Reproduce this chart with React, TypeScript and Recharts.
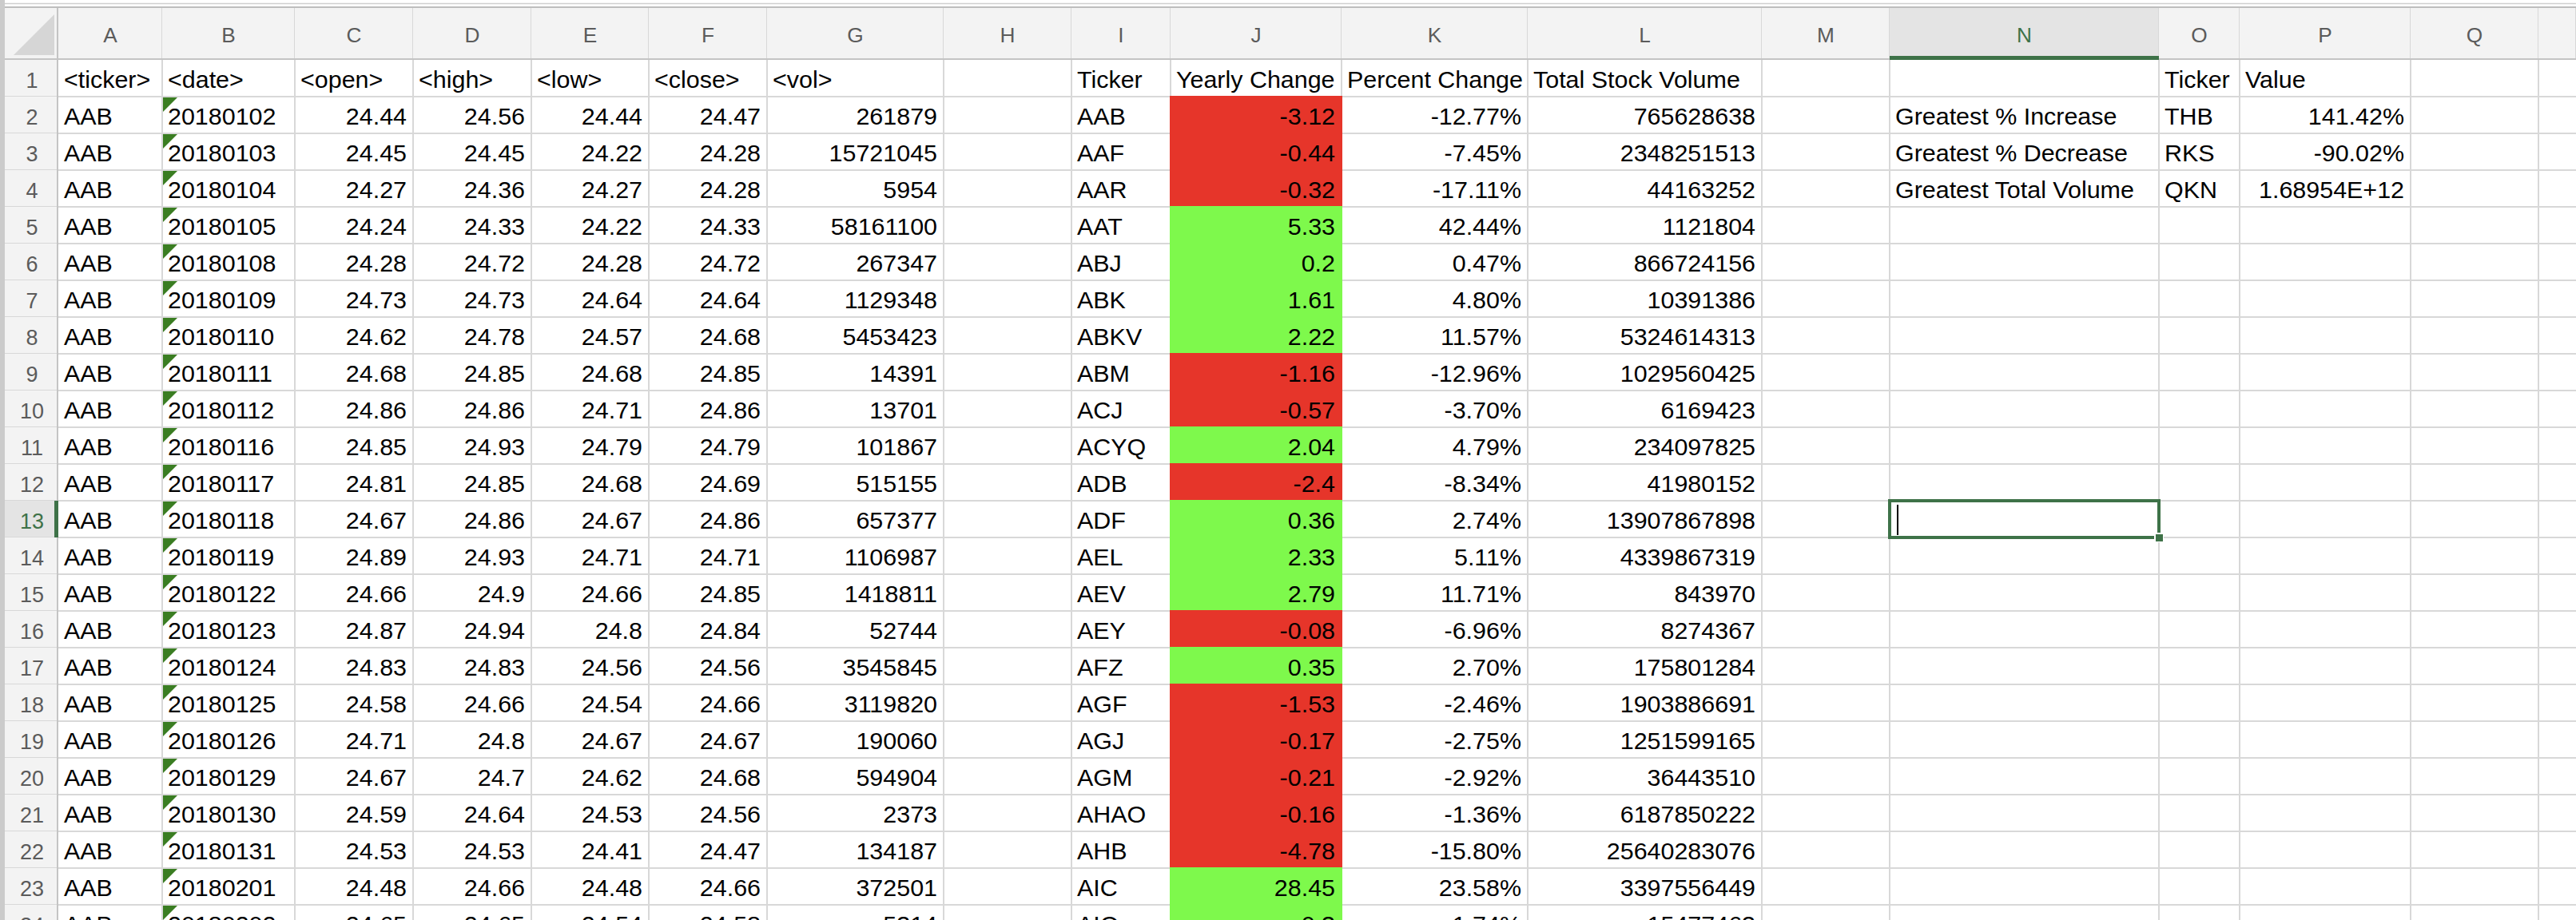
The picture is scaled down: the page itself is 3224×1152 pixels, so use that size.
import React from 'react';
import { ScatterChart, Scatter, XAxis, YAxis, CartesianGrid, ReferenceArea } from 'recharts';

// column letters shown in the header band (the last, partly visible column has no letter)
const COLUMN_LETTERS = ['A', 'B', 'C', 'D', 'E', 'F', 'G', 'H', 'I', 'J', 'K', 'L', 'M', 'N', 'O', 'P', 'Q', ''];
const ROW_NUMBERS = [1, 2, 3, 4, 5, 6, 7, 8, 9, 10, 11, 12, 13, 14, 15, 16, 17, 18, 19, 20, 21, 22, 23, 24];

// raw price table (columns A-G)
const RAW_HEADERS = ['<ticker>', '<date>', '<open>', '<high>', '<low>', '<close>', '<vol>'];
const TICKERS = ['AAB', 'AAB', 'AAB', 'AAB', 'AAB', 'AAB', 'AAB', 'AAB', 'AAB', 'AAB', 'AAB', 'AAB', 'AAB', 'AAB', 'AAB', 'AAB', 'AAB', 'AAB', 'AAB', 'AAB', 'AAB', 'AAB', 'AAB'];
const DATES = ['20180102', '20180103', '20180104', '20180105', '20180108', '20180109', '20180110', '20180111', '20180112', '20180116', '20180117', '20180118', '20180119', '20180122', '20180123', '20180124', '20180125', '20180126', '20180129', '20180130', '20180131', '20180201', '20180202'];
const OPEN = [24.44, 24.45, 24.27, 24.24, 24.28, 24.73, 24.62, 24.68, 24.86, 24.85, 24.81, 24.67, 24.89, 24.66, 24.87, 24.83, 24.58, 24.71, 24.67, 24.59, 24.53, 24.48, 24.65];
const HIGH = [24.56, 24.45, 24.36, 24.33, 24.72, 24.73, 24.78, 24.85, 24.86, 24.93, 24.85, 24.86, 24.93, 24.9, 24.94, 24.83, 24.66, 24.8, 24.7, 24.64, 24.53, 24.66, 24.65];
const LOW = [24.44, 24.22, 24.27, 24.22, 24.28, 24.64, 24.57, 24.68, 24.71, 24.79, 24.68, 24.67, 24.71, 24.66, 24.8, 24.56, 24.54, 24.67, 24.62, 24.53, 24.41, 24.48, 24.54];
const CLOSE = [24.47, 24.28, 24.28, 24.33, 24.72, 24.64, 24.68, 24.85, 24.86, 24.79, 24.69, 24.86, 24.71, 24.85, 24.84, 24.56, 24.66, 24.67, 24.68, 24.56, 24.47, 24.66, 24.58];
const VOL = [261879, 15721045, 5954, 58161100, 267347, 1129348, 5453423, 14391, 13701, 101867, 515155, 657377, 1106987, 1418811, 52744, 3545845, 3119820, 190060, 594904, 2373, 134187, 372501, 5314];

// yearly summary (columns I-L)
const SUMMARY_HEADERS = ['Ticker', 'Yearly Change', 'Percent Change', 'Total Stock Volume'];
const SUMMARY_TICKERS = ['AAB', 'AAF', 'AAR', 'AAT', 'ABJ', 'ABK', 'ABKV', 'ABM', 'ACJ', 'ACYQ', 'ADB', 'ADF', 'AEL', 'AEV', 'AEY', 'AFZ', 'AGF', 'AGJ', 'AGM', 'AHAO', 'AHB', 'AIC', 'AIQ'];
const YEARLY_CHANGE = [-3.12, -0.44, -0.32, 5.33, 0.2, 1.61, 2.22, -1.16, -0.57, 2.04, -2.4, 0.36, 2.33, 2.79, -0.08, 0.35, -1.53, -0.17, -0.21, -0.16, -4.78, 28.45, 0.3];
const PERCENT_CHANGE = [-12.77, -7.45, -17.11, 42.44, 0.47, 4.8, 11.57, -12.96, -3.7, 4.79, -8.34, 2.74, 5.11, 11.71, -6.96, 2.7, -2.46, -2.75, -2.92, -1.36, -15.8, 23.58, 1.74];
const TOTAL_VOLUME = [765628638, 2348251513, 44163252, 1121804, 866724156, 10391386, 5324614313, 1029560425, 6169423, 234097825, 41980152, 13907867898, 4339867319, 843970, 8274367, 175801284, 1903886691, 1251599165, 36443510, 6187850222, 25640283076, 3397556449, 15477463];

// greatest block (columns N-P)
const GREATEST_HEADERS = ['Ticker', 'Value'];
const GREATEST_LABELS = ['Greatest % Increase', 'Greatest % Decrease', 'Greatest Total Volume'];
const GREATEST_TICKERS = ['THB', 'RKS', 'QKN'];
const GREATEST_PERCENTS = [141.42, -90.02];
const GREATEST_VOLUME = 1.68954e12;

const ACTIVE_COLUMN = 'N';
const ACTIVE_ROW = 13;

// layout of the sheet (pixels)
const W = 3224;
const H = 1152;
const CHART_H = 1200;
const FRAME_LEFT = 6;
const HEADER_TOP = 10;
const HEADER_H = 65;
const PLOT_TOP = HEADER_TOP + HEADER_H;
const PLOT_LEFT = 73;
const ROW_H = 46;
const COL_EDGES = [73, 203, 369, 517, 665, 812, 960, 1181, 1341, 1465, 1679, 1912, 2205, 2365, 2702, 2803, 3017, 3177, 3224];
const COL_CENTERS = COL_EDGES.slice(0, -1).map((e, i) => (e + COL_EDGES[i + 1]) / 2);
const Y_MAX = 0.5 + (CHART_H - PLOT_TOP) / ROW_H;

const FONT = '"Liberation Sans", Arial, sans-serif';
const SX = 1.05;
const RED = '#e6352a';
const LIME = '#7ef94c';
const ACCENT = '#3e7248';
const GRID = '#d8d8d8';
const HEAD_BG = '#f3f3f3';

type Cell = { x: number; y: number; col: number; text: string; align: 'left' | 'right'; fill?: string; flag?: boolean };

const cells: Cell[] = [];
const put = (col: number, row: number, text: string, align: 'left' | 'right', extra: Partial<Cell> = {}) =>
    cells.push({ x: COL_CENTERS[col], y: row, col, text, align, ...extra });

const pct = (v: number) => `${v.toFixed(2)}%`;

RAW_HEADERS.forEach((h, i) => put(i, 1, h, 'left'));
DATES.forEach((d, i) => {
    const row = i + 2;
    put(0, row, TICKERS[i], 'left');
    put(1, row, d, 'left', { flag: true });
    put(2, row, String(OPEN[i]), 'right');
    put(3, row, String(HIGH[i]), 'right');
    put(4, row, String(LOW[i]), 'right');
    put(5, row, String(CLOSE[i]), 'right');
    put(6, row, String(VOL[i]), 'right');
});
SUMMARY_HEADERS.forEach((h, i) => put(8 + i, 1, h, 'left'));
SUMMARY_TICKERS.forEach((t, i) => {
    const row = i + 2;
    put(8, row, t, 'left');
    put(9, row, String(YEARLY_CHANGE[i]), 'right', { fill: YEARLY_CHANGE[i] < 0 ? RED : LIME });
    put(10, row, pct(PERCENT_CHANGE[i]), 'right');
    put(11, row, String(TOTAL_VOLUME[i]), 'right');
});
GREATEST_HEADERS.forEach((h, i) => put(14 + i, 1, h, 'left'));
GREATEST_LABELS.forEach((l, i) => {
    put(13, i + 2, l, 'left');
    put(14, i + 2, GREATEST_TICKERS[i], 'left');
});
GREATEST_PERCENTS.forEach((v, i) => put(15, i + 2, pct(v), 'right'));
put(15, 4, GREATEST_VOLUME.toExponential(5).toUpperCase(), 'right');

// one spreadsheet cell, placed by the scatter point
const CellShape = (props: any) => {
    const { cx, cy, payload } = props;
    const half = (COL_EDGES[payload.col + 1] - COL_EDGES[payload.col]) / 2;
    const left = cx - half;
    const right = cx + half;
    const top = cy - ROW_H / 2;
    const tx = payload.align === 'left' ? left + 7 : right - 8;
    return (
        <g>
            {payload.fill && <rect x={left - 1} y={top - 1} width={half * 2 + 2} height={ROW_H + 2} fill={payload.fill} />}
            {payload.flag && <path d={`M${left + 1},${top + 1} L${left + 19},${top + 1} L${left + 1},${top + 19} Z`} fill="#3a7d22" />}
            <text
                transform={`translate(${tx},${cy + 12}) scale(${SX},1)`}
                textAnchor={payload.align === 'left' ? 'start' : 'end'}
                fontFamily={FONT}
                fontSize={29}
                fill="#000"
            >
                {payload.text}
            </text>
        </g>
    );
};

// column letter band
const ColumnHeader = (props: any) => {
    const { x, payload } = props;
    const idx = COL_CENTERS.indexOf(payload.value);
    const half = (COL_EDGES[idx + 1] - COL_EDGES[idx]) / 2;
    const active = COLUMN_LETTERS[idx] === ACTIVE_COLUMN;
    return (
        <g>
            <rect x={x - half} y={HEADER_TOP} width={half * 2} height={HEADER_H} fill={active ? '#e4e4e4' : HEAD_BG} />
            <line x1={x + half} x2={x + half} y1={HEADER_TOP} y2={PLOT_TOP} stroke={GRID} strokeWidth={2} />
            <line x1={x - half} x2={x + half} y1={PLOT_TOP - 1} y2={PLOT_TOP - 1} stroke="#c4c4c4" strokeWidth={2} />
            {active && <rect x={x - half} y={PLOT_TOP - 5} width={half * 2} height={5} fill={ACCENT} />}
            <text
                transform={`translate(${x},${HEADER_TOP + 43}) scale(1.05,1)`}
                textAnchor="middle"
                fontFamily={FONT}
                fontSize={25}
                fill={active ? ACCENT : '#5b5b5b'}
            >
                {COLUMN_LETTERS[idx]}
            </text>
        </g>
    );
};

// row number band
const RowHeader = (props: any) => {
    const { y, payload } = props;
    const row = payload.value;
    const top = y - ROW_H / 2;
    const active = row === ACTIVE_ROW;
    return (
        <g>
            <rect x={FRAME_LEFT} y={top} width={PLOT_LEFT - FRAME_LEFT} height={ROW_H} fill={active ? '#e4e4e4' : HEAD_BG} />
            <line x1={FRAME_LEFT} x2={PLOT_LEFT} y1={top + ROW_H} y2={top + ROW_H} stroke={GRID} strokeWidth={2} />
            <line x1={PLOT_LEFT - 1} x2={PLOT_LEFT - 1} y1={top} y2={top + ROW_H} stroke="#c4c4c4" strokeWidth={2} />
            {active && <rect x={PLOT_LEFT - 5} y={top} width={5} height={ROW_H} fill={ACCENT} />}
            <text x={40} y={y + 12} textAnchor="middle" fontFamily={FONT} fontSize={27} fill={active ? ACCENT : '#5b5b5b'}>
                {row}
            </text>
        </g>
    );
};

// selected cell with fill handle and text cursor
const Selection = (props: any) => {
    const { x, y, width, height } = props;
    return (
        <g>
            <rect x={x} y={y} width={width} height={height} fill="none" stroke={ACCENT} strokeWidth={4} />
            <rect x={x + width - 6} y={y + height - 6} width={12} height={12} fill="#fff" />
            <rect x={x + width - 4} y={y + height - 4} width={9} height={9} fill={ACCENT} />
            <line x1={x + 10} x2={x + 10} y1={y + 5} y2={y + height - 3} stroke="#000" strokeWidth={2} />
        </g>
    );
};

const rowLines = ROW_NUMBERS.map((r) => PLOT_TOP + r * ROW_H);

export default function App() {
    return (
        <div style={{ width: W, height: H, overflow: 'hidden', position: 'relative', background: '#fff' }}>
            <style>{'body{margin:0}'}</style>
            <ScatterChart width={W} height={CHART_H} margin={{ top: HEADER_TOP, right: 0, bottom: 0, left: FRAME_LEFT }}>
                <CartesianGrid horizontalPoints={rowLines} verticalPoints={COL_EDGES.slice(1, -1)} stroke={GRID} strokeWidth={2} />
                <XAxis
                    type="number"
                    dataKey="x"
                    orientation="top"
                    height={HEADER_H}
                    domain={[PLOT_LEFT, W]}
                    allowDataOverflow
                    ticks={COL_CENTERS}
                    interval={0}
                    tickLine={false}
                    axisLine={false}
                    tick={<ColumnHeader />}
                />
                <YAxis
                    type="number"
                    dataKey="y"
                    width={PLOT_LEFT - FRAME_LEFT}
                    domain={[0.5, Y_MAX]}
                    reversed
                    allowDataOverflow
                    ticks={ROW_NUMBERS}
                    interval={0}
                    tickLine={false}
                    axisLine={false}
                    tick={<RowHeader />}
                />
                <Scatter data={cells} shape={<CellShape />} isAnimationActive={false} />
                <ReferenceArea
                    x1={COL_EDGES[13]}
                    x2={COL_EDGES[14]}
                    y1={ACTIVE_ROW - 0.5}
                    y2={ACTIVE_ROW + 0.5}
                    shape={<Selection />}
                />
            </ScatterChart>
            <svg width={W} height={H} style={{ position: 'absolute', left: 0, top: 0, pointerEvents: 'none' }}>
                <rect x={0} y={0} width={W} height={HEADER_TOP} fill="#fff" />
                <line x1={0} x2={W} y1={4.5} y2={4.5} stroke="#cfcfcf" strokeWidth={1.5} />
                <line x1={0} x2={W} y1={9} y2={9} stroke="#bdbdbd" strokeWidth={2} />
                <rect x={0} y={0} width={FRAME_LEFT} height={H} fill="#cbcbcb" />
                <rect x={FRAME_LEFT} y={HEADER_TOP} width={PLOT_LEFT - FRAME_LEFT} height={HEADER_H} fill={HEAD_BG} />
                <path d={`M17,69 L68,69 L68,18 Z`} fill="#d6d6d6" />
                <line x1={PLOT_LEFT - 1} x2={PLOT_LEFT - 1} y1={HEADER_TOP} y2={PLOT_TOP} stroke="#c4c4c4" strokeWidth={2} />
                <line x1={FRAME_LEFT} x2={PLOT_LEFT} y1={PLOT_TOP - 1} y2={PLOT_TOP - 1} stroke="#c4c4c4" strokeWidth={2} />
            </svg>
        </div>
    );
}
